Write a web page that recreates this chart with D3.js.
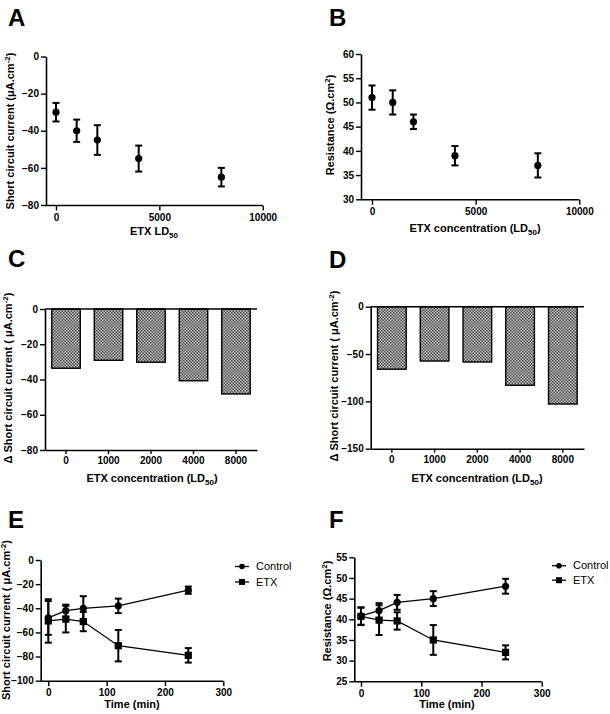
<!DOCTYPE html>
<html><head><meta charset="utf-8">
<script src="https://cdn.jsdelivr.net/npm/d3@7"></script>
<style>
body{margin:0;background:#fff;}
svg text{font-family:"Liberation Sans",Arial,sans-serif;}
</style></head>
<body><svg id="c" width="610" height="714"></svg>
<script>
// ---- data ----
const doseA = [0, 1000, 2000, 4000, 8000];
const iscA = [-30, -40, -45, -55, -65];
const iscAerr = [5, 6, 8, 7, 5];
const resB = [51, 50, 46, 39, 37];
const resBerr = [2.5, 2.5, 1.5, 2, 2.5];
const doseCats = ["0", "1000", "2000", "4000", "8000"];
const deltaC = [-33.6, -29.1, -30.2, -40.7, -48.2];
const deltaD = [-66, -57.4, -58.4, -83, -102.8];
const timeE = [0, 30, 60, 120, 240];
const ctrlE = [-48, -42, -40, -38, -25];
const ctrlEerr = [14, 5, 10, 6, 3];
const etxE = [-50.5, -49, -51, -71, -79];
const etxEerr = [18, 11, 8, 13, 6];
const ctrlF = [40.8, 42.1, 44.1, 45, 48];
const ctrlFerr = [2.1, 1.8, 1.8, 1.8, 1.8];
const etxF = [40.7, 39.8, 39.6, 35, 32];
const etxFerr = [2.1, 3.6, 2.1, 3.6, 1.7];
const ticksA = [0, -20, -40, -60, -80];
const ticksB = [30, 35, 40, 45, 50, 55, 60];
const ticksC = [0, -20, -40, -60, -80];
const ticksD = [0, -50, -100, -150];
const ticksE = [0, -20, -40, -60, -80, -100];
const ticksF = [25, 30, 35, 40, 45, 50, 55];
const ticksDose = [0, 5000, 10000];
const ticksTime = [0, 100, 200, 300];
const legendNames = ["Control", "ETX"];

const svg = d3.select("#c");
const defs = svg.append("defs");
const pat = defs.append("pattern").attr("id","dots").attr("width",3).attr("height",3).attr("patternUnits","userSpaceOnUse");
pat.append("rect").attr("width",3).attr("height",3).attr("fill","#b8b8b8");
pat.append("rect").attr("width",1.5).attr("height",1.5).attr("fill","#555");
pat.append("rect").attr("x",1.5).attr("y",1.5).attr("width",1.5).attr("height",1.5).attr("fill","#555");

const FONT = "bold 10px 'Liberation Sans', Arial, sans-serif";
const fmt = d3.format("d");

function styleAxis(g){
  g.selectAll("path").attr("stroke","#000").attr("stroke-width",1.6);
  g.selectAll("line").attr("stroke","#000").attr("stroke-width",1.4);
  g.selectAll("text").style("font", FONT).attr("fill","#000");
}

function panelLabel(t, x, y){
  svg.append("text").attr("x",x).attr("y",y).text(t)
    .style("font","bold 24px 'Liberation Sans', Arial, sans-serif");
}

function yLabel(x, cy, parts){
  const t = svg.append("text").attr("transform",`translate(${x},${cy}) rotate(-90)`)
    .attr("text-anchor","middle").style("font","bold 11px 'Liberation Sans', Arial, sans-serif");
  parts.forEach(p=>{
    const s = t.append("tspan").text(p.t);
    if(p.sup){ s.attr("dy",-4).style("font-size","8px"); }
    if(p.after){ s.attr("dy",4); }
  });
}
function xLabel(cx, y, parts){
  const t = svg.append("text").attr("x",cx).attr("y",y)
    .attr("text-anchor","middle").style("font","bold 11px 'Liberation Sans', Arial, sans-serif");
  parts.forEach(p=>{
    const s = t.append("tspan").text(p.t);
    if(p.sub){ s.attr("dy",3).style("font-size","8px"); }
    if(p.after){ s.attr("dy",-3); }
  });
}

function errbars(g, xs, ys, es, x, y){
  const cap = 3.5;
  xs.forEach((d,i)=>{
    const px = x(d), y1 = y(ys[i]+es[i]), y2 = y(ys[i]-es[i]);
    g.append("line").attr("x1",px).attr("x2",px).attr("y1",y1).attr("y2",y2).attr("stroke","#000").attr("stroke-width",2);
    g.append("line").attr("x1",px-cap).attr("x2",px+cap).attr("y1",y1).attr("y2",y1).attr("stroke","#000").attr("stroke-width",2);
    g.append("line").attr("x1",px-cap).attr("x2",px+cap).attr("y1",y2).attr("y2",y2).attr("stroke","#000").attr("stroke-width",2);
  });
}

function scatterPanel(o){
  const x = d3.scaleLinear().domain(o.xd).range(o.xr);
  const y = d3.scaleLinear().domain(o.yd).range(o.yr);
  const g = svg.append("g");
  const ya = g.append("g").attr("transform",`translate(${o.axisX},0)`)
    .call(d3.axisLeft(y).tickValues(o.yt).tickFormat(fmt).tickSize(5).tickPadding(2).tickSizeOuter(0));
  styleAxis(ya);
  const bottom = Math.max(...o.yr)+0.5;
  const xa = g.append("g").attr("transform",`translate(0,${bottom})`)
    .call(d3.axisBottom(x).tickValues(o.xt).tickFormat(fmt).tickSize(5).tickPadding(3).tickSizeOuter(0));
  xa.select("path").attr("d",`M${o.axisX},0H${o.xr[1]}`);
  styleAxis(xa);
  return {g,x,y};
}

function seriesLine(g, x, y, xs, ys){
  g.append("path").datum(xs.map((d,i)=>[d,ys[i]]))
    .attr("d", d3.line().x(d=>x(d[0])).y(d=>y(d[1])))
    .attr("fill","none").attr("stroke","#000").attr("stroke-width",1.3);
}
function markers(g, x, y, xs, ys, shape){
  xs.forEach((d,i)=>{
    if(shape==="circle") g.append("circle").attr("cx",x(d)).attr("cy",y(ys[i])).attr("r",3.6).attr("fill","#000");
    else g.append("rect").attr("x",x(d)-3.6).attr("y",y(ys[i])-3.6).attr("width",7.2).attr("height",7.2).attr("fill","#000");
  });
}

// ---- Panel A ----
panelLabel("A", 8, 26);
{
  const {g,x,y} = scatterPanel({xd:[0,10000], xr:[56,262.7], yd:[-80,0], yr:[205,56.5], axisX:46, yt:ticksA, xt:ticksDose});
  errbars(g, doseA, iscA, iscAerr, x, y);
  markers(g, x, y, doseA, iscA, "circle");
}
yLabel(14, 131, [{t:"Short circuit current (μA.cm"},{t:"-2",sup:true},{t:")",after:true}]);
xLabel(154, 235, [{t:"ETX LD"},{t:"50",sub:true}]);

// ---- Panel B ----
panelLabel("B", 329, 26);
{
  const {g,x,y} = scatterPanel({xd:[0,10000], xr:[372,579.3], yd:[30,60], yr:[199.3,54], axisX:361, yt:ticksB, xt:ticksDose});
  errbars(g, doseA, resB, resBerr, x, y);
  markers(g, x, y, doseA, resB, "circle");
}
yLabel(334, 125, [{t:"Resistance (Ω.cm"},{t:"2",sup:true},{t:")",after:true}]);
xLabel(475, 232, [{t:"ETX concentration (LD"},{t:"50",sub:true},{t:")",after:true}]);

// ---- Bar panels ----
function barPanel(o){
  const x = d3.scaleBand().domain(doseCats).range(o.xr).paddingInner(0.33).paddingOuter(0.16);
  const y = d3.scaleLinear().domain(o.yd).range(o.yr);
  const g = svg.append("g");
  g.selectAll("rect.bar").data(o.vals).enter().append("rect")
    .attr("x",(d,i)=>x(doseCats[i])).attr("width",x.bandwidth())
    .attr("y",y(0)).attr("height",d=>y(d)-y(0))
    .attr("fill","url(#dots)").attr("stroke","#000").attr("stroke-width",1.4);
  const ya = g.append("g").attr("transform",`translate(${o.xr[0]},0)`)
    .call(d3.axisLeft(y).tickValues(o.yt).tickSize(5).tickPadding(2).tickSizeOuter(0));
  styleAxis(ya);
  const xb = g.append("g").attr("transform",`translate(0,${y(o.yd[0])})`)
    .call(d3.axisBottom(x).tickSize(4).tickPadding(3).tickSizeOuter(0));
  styleAxis(xb);
  g.append("line").attr("x1",o.xr[0]).attr("x2",o.xr[1]).attr("y1",y(0)).attr("y2",y(0)).attr("stroke","#000").attr("stroke-width",1.6);
}
panelLabel("C", 8, 267);
barPanel({xr:[45,257], yd:[-80,0], yr:[450,309], vals:deltaC, yt:ticksC});
yLabel(12, 378, [{t:"Δ Short circuit current ( μA.cm"},{t:"-2",sup:true},{t:")",after:true}]);
xLabel(152, 482, [{t:"ETX concentration (LD"},{t:"50",sub:true},{t:")",after:true}]);

panelLabel("D", 329, 268);
barPanel({xr:[370.7,584], yd:[-150,0], yr:[448.7,306.7], vals:deltaD, yt:ticksD});
yLabel(338, 376, [{t:"Δ Short circuit current ( μA.cm"},{t:"-2",sup:true},{t:")",after:true}]);
xLabel(477, 482, [{t:"ETX concentration (LD"},{t:"50",sub:true},{t:")",after:true}]);

// ---- Time panels ----
function legend(x0, yc, dy){
  legendNames.forEach((n,i)=>{
    const y = yc + i*dy;
    svg.append("line").attr("x1",x0).attr("x2",x0+14).attr("y1",y).attr("y2",y).attr("stroke","#000").attr("stroke-width",1.3);
    if(i===0) svg.append("circle").attr("cx",x0+7).attr("cy",y).attr("r",2.8);
    else svg.append("rect").attr("x",x0+4).attr("y",y-3).attr("width",6).attr("height",6);
    svg.append("text").attr("x",x0+21).attr("y",y+3.5).text(n)
      .style("font","11px 'Liberation Sans', Arial, sans-serif");
  });
}

panelLabel("E", 8, 528);
{
  const {g,x,y} = scatterPanel({xd:[0,300], xr:[48.3,223.3], yd:[-100,0], yr:[680.7,560], axisX:40.7, yt:ticksE, xt:ticksTime});
  seriesLine(g,x,y,timeE,ctrlE); seriesLine(g,x,y,timeE,etxE);
  errbars(g,timeE,ctrlE,ctrlEerr,x,y); errbars(g,timeE,etxE,etxEerr,x,y);
  markers(g,x,y,timeE,ctrlE,"circle"); markers(g,x,y,timeE,etxE,"square");
}
yLabel(10, 620, [{t:"Short circuit current ( μA.cm"},{t:"-2",sup:true},{t:")",after:true}]);
xLabel(132, 708, [{t:"Time (min)"}]);
legend(235, 566.5, 15.5);

panelLabel("F", 329, 528);
{
  const {g,x,y} = scatterPanel({xd:[0,300], xr:[361,541.7], yd:[25,55], yr:[681.3,557.3], axisX:354.3, yt:ticksF, xt:ticksTime});
  seriesLine(g,x,y,timeE,ctrlF); seriesLine(g,x,y,timeE,etxF);
  errbars(g,timeE,ctrlF,ctrlFerr,x,y); errbars(g,timeE,etxF,etxFerr,x,y);
  markers(g,x,y,timeE,ctrlF,"circle"); markers(g,x,y,timeE,etxF,"square");
}
yLabel(331, 611, [{t:"Resistance (Ω.cm"},{t:"2",sup:true},{t:")",after:true}]);
xLabel(447, 708, [{t:"Time (min)"}]);
legend(552, 565.7, 14.5);
</script></body></html>
